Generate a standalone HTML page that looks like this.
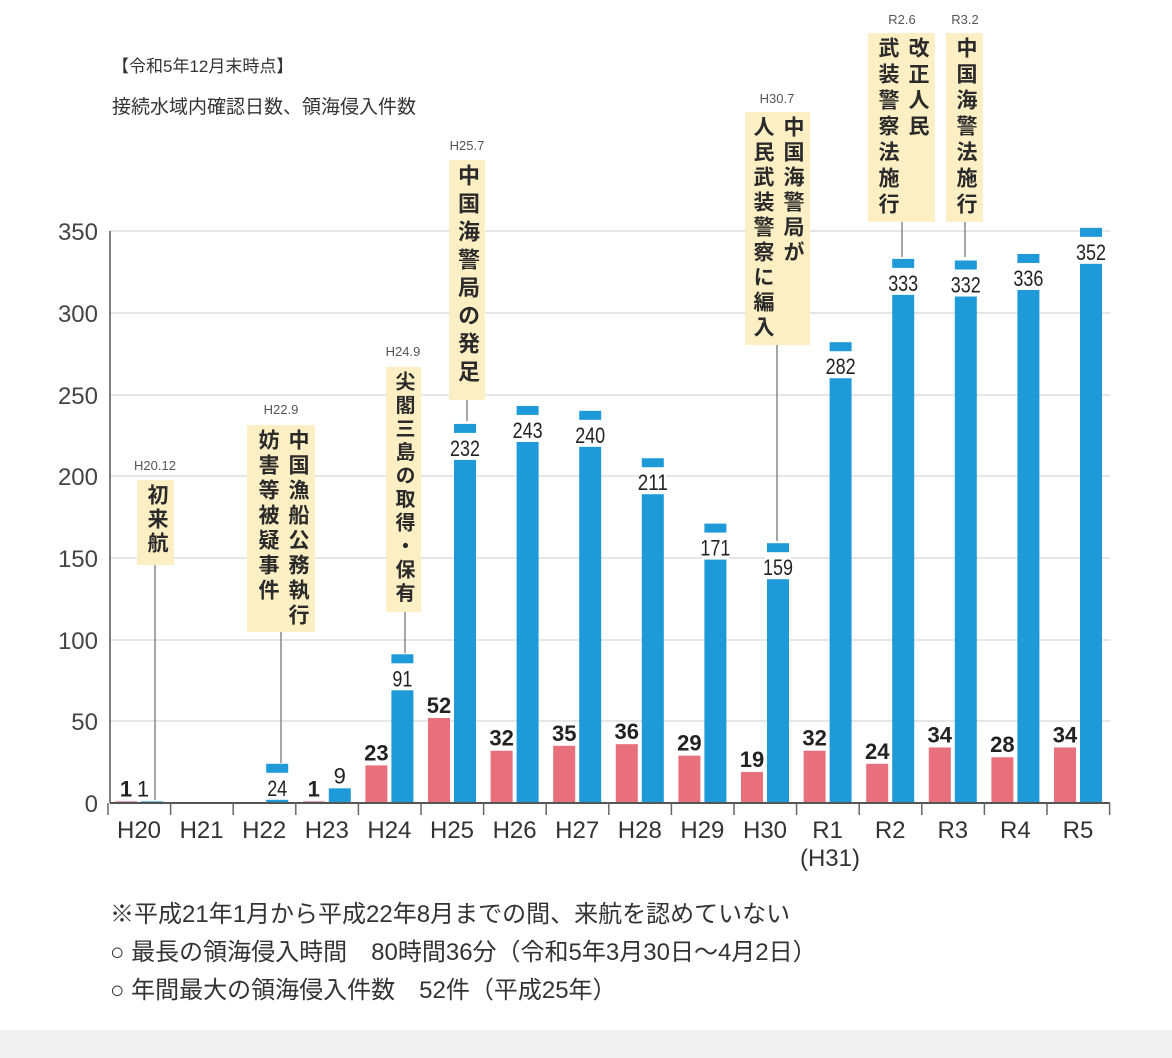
<!DOCTYPE html>
<html><head><meta charset="utf-8"><style>
body{margin:0;width:1172px;height:1058px;background:#fff;position:relative;overflow:hidden;font-family:"Liberation Sans","Noto Sans CJK JP",sans-serif;color:#333}
.v{position:absolute;writing-mode:vertical-rl;white-space:nowrap;overflow:hidden;font-size:21px;letter-spacing:4px;line-height:30px;background:#fcefc4;color:#2a2a2a;font-weight:bold;padding:4px 3px;box-sizing:border-box}
.d{position:absolute;font-size:13px;color:#555;width:60px;text-align:center}
.t{position:absolute;font-size:24px;color:#333;white-space:nowrap}
</style></head><body>
<div class="t" style="left:112px;top:52px;font-size:17px">【令和5年12月末時点】</div>
<div class="t" style="left:112px;top:92px;font-size:19px">接続水域内確認日数、領海侵入件数</div>
<svg width="1172" height="1058" style="position:absolute;left:0;top:0">
<rect x="0" y="1030" width="1172" height="28" fill="#f1f1f1"/>
<g stroke="#e6e6e6" stroke-width="2">
<line x1="110" y1="231" x2="1110" y2="231"/><line x1="110" y1="313" x2="1110" y2="313"/>
<line x1="110" y1="395" x2="1110" y2="395"/><line x1="110" y1="476" x2="1110" y2="476"/>
<line x1="110" y1="558" x2="1110" y2="558"/><line x1="110" y1="640" x2="1110" y2="640"/>
<line x1="110" y1="721" x2="1110" y2="721"/></g>
<g font-size="24" fill="#444" text-anchor="end">
<text x="98" y="812">0</text><text x="98" y="730">50</text><text x="98" y="649">100</text>
<text x="98" y="567">150</text><text x="98" y="485">200</text><text x="98" y="404">250</text>
<text x="98" y="322">300</text><text x="98" y="240">350</text></g>
<g id="bars"></g>
<line x1="110" y1="803" x2="1110" y2="803" stroke="#555" stroke-width="2"/>
<line x1="110" y1="231" x2="110" y2="803" stroke="#555" stroke-width="1.5"/>
<g id="ticks" stroke="#666" stroke-width="1.5"></g>
<g id="xl" font-size="24" fill="#333" text-anchor="middle"></g>
<g stroke="#888" stroke-width="1.5">
<line x1="155" y1="565" x2="155" y2="800"/><line x1="281" y1="632" x2="281" y2="763"/>
<line x1="405" y1="612" x2="405" y2="653"/><line x1="467" y1="400" x2="467" y2="421"/>
<line x1="777" y1="345" x2="777" y2="541"/><line x1="902" y1="222" x2="902" y2="257"/>
<line x1="965" y1="222" x2="965" y2="257"/></g>
<g fill="#333" font-size="24">
<text x="110" y="922">※平成21年1月から平成22年8月までの間、来航を認めていない</text>
<text x="110" y="960">○ 最長の領海侵入時間　80時間36分（令和5年3月30日～4月2日）</text>
<text x="110" y="998">○ 年間最大の領海侵入件数　52件（平成25年）</text></g>
</svg>
<div class="d" style="left:125px;top:458px">H20.12</div>
<div class="v" style="left:137px;top:480px;width:37px;height:85px;letter-spacing:3px">初来航</div>
<div class="d" style="left:251px;top:402px">H22.9</div>
<div class="v" style="left:247px;top:425px;width:68px;height:207px">中国漁船公務執行<br>妨害等被疑事件</div>
<div class="d" style="left:373px;top:344px">H24.9</div>
<div class="v" style="left:386px;top:367px;width:35px;height:245px;font-size:20px;letter-spacing:3.5px">尖閣三島の取得・保有</div>
<div class="d" style="left:437px;top:138px">H25.7</div>
<div class="v" style="left:449px;top:160px;width:36px;height:240px;font-size:22px;letter-spacing:6px">中国海警局の発足</div>
<div class="d" style="left:747px;top:91px">H30.7</div>
<div class="v" style="left:745px;top:112px;width:65px;height:233px">中国海警局が<br>人民武装警察に編入</div>
<div class="d" style="left:872px;top:12px">R2.6</div>
<div class="v" style="left:868px;top:33px;width:67px;height:189px;letter-spacing:5px">改正人民<br>武装警察法施行</div>
<div class="d" style="left:935px;top:12px">R3.2</div>
<div class="v" style="left:946px;top:33px;width:37px;height:189px;letter-spacing:5px">中国海警法施行</div>
<script>
var P=[1,0,0,1,23,52,32,35,36,29,19,32,24,34,28,34];
var B=[1,0,24,9,91,232,243,240,211,171,159,282,333,332,336,352];
var L=["H20","H21","H22","H23","H24","H25","H26","H27","H28","H29","H30","R1","R2","R3","R4","R5"];
var s="";
function y(v){return 803-v*1.634;}
for(var i=0;i<16;i++){var c=139+62.6*i;
 if(P[i]){var t=y(P[i]);s+='<rect x="'+(c-24)+'" y="'+t+'" width="22" height="'+(803-t)+'" fill="#e86f7c"/>';
  s+='<text x="'+(c-13)+'" y="'+(t-5)+'" font-size="22" font-weight="bold" fill="#222" text-anchor="middle">'+P[i]+'</text>';}
 if(B[i]){var t=y(B[i]);s+='<rect x="'+(c+2)+'" y="'+t+'" width="22" height="'+(803-t)+'" fill="#1e9ad8"/>';
  if(B[i]>20){s+='<rect x="'+(c)+'" y="'+(t+9)+'" width="26" height="27" fill="#fff"/>';
  s+='<text x="'+(c+13)+'" y="'+(t+32)+'" font-size="22" fill="#222" text-anchor="middle" textLength="'+(B[i]>99?30:20)+'" lengthAdjust="spacingAndGlyphs">'+B[i]+'</text>';}
  else s+='<text x="'+(c+(B[i]>5?13:4))+'" y="'+(t-5)+'" font-size="22" fill="#222" text-anchor="middle">'+B[i]+'</text>';}
}
document.getElementById("bars").innerHTML=s;
var tk="",xl="";
for(var i=0;i<=16;i++){var x=108+62.6*i;tk+='<line x1="'+x+'" y1="803" x2="'+x+'" y2="815"/>';}
for(var i=0;i<16;i++){var c=139+62.6*i;xl+='<text x="'+c+'" y="838">'+L[i]+'</text>';}
xl+='<text x="830" y="866">(H31)</text>';
document.getElementById("ticks").innerHTML=tk;document.getElementById("xl").innerHTML=xl;
</script>
</body></html>
